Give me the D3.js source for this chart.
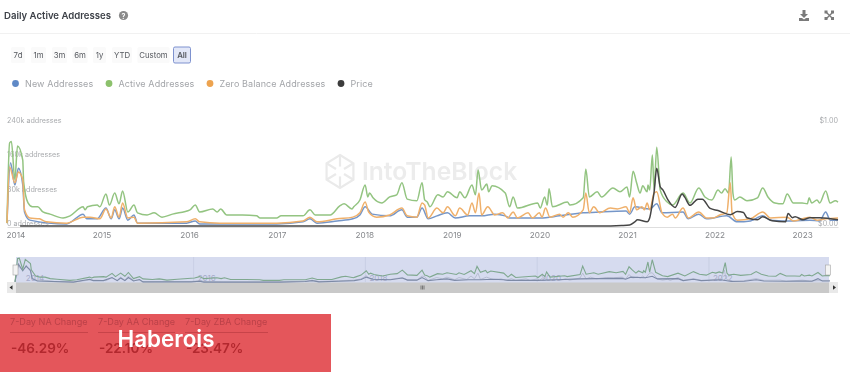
<!DOCTYPE html>
<html>
<head>
<meta charset="utf-8">
<script src="https://cdn.jsdelivr.net/npm/d3@7"></script>
<style>
  html, body { margin: 0; padding: 0; background: #fff; overflow: hidden; }
  svg { display: block; filter: blur(0.5px); }
  text { font-family: Inter, "Noto Sans", sans-serif; }
</style>
</head>
<body>
<div id="chart"></div>
<script>
// values, year as decimal, addresses in thousands
const activeYears = [2013.92,2013.95,2013.97,2014.01,2014.04,2014.10,2014.11,2014.16,2014.21,2014.27,2014.33,2014.41,2014.56,2014.64,2014.79,2014.81,2014.84,2014.95,2014.98,2015.05,2015.09,2015.15,2015.20,2015.24,2015.30,2015.37,2015.41,2015.52,2015.60,2015.69,2015.81,2016.01,2016.07,2016.12,2016.27,2016.32,2016.36,2016.43,2016.61,2016.77,2016.81,2017.00,2017.05,2017.30,2017.38,2017.44,2017.61,2017.72,2017.77,2017.86,2017.88,2017.95,2018.01,2018.04,2018.06,2018.10,2018.20,2018.29,2018.37,2018.43,2018.49,2018.60,2018.66,2018.69,2018.72,2018.75,2018.84,2018.90,2018.95,2019.06,2019.09,2019.15,2019.23,2019.27,2019.30,2019.34,2019.40,2019.42,2019.46,2019.61,2019.66,2019.70,2019.75,2019.98,2020.01,2020.06,2020.09,2020.11,2020.15,2020.32,2020.35,2020.50,2020.53,2020.57,2020.66,2020.71,2020.84,2020.92,2021.00,2021.03,2021.07,2021.11,2021.15,2021.18,2021.23,2021.24,2021.26,2021.29,2021.31,2021.34,2021.38,2021.46,2021.52,2021.64,2021.72,2021.82,2021.89,2021.97,2022.04,2022.08,2022.12,2022.16,2022.19,2022.21,2022.23,2022.29,2022.37,2022.49,2022.55,2022.61,2022.69,2022.78,2022.83,2022.90,2023.00,2023.06,2023.08,2023.11,2023.17,2023.20,2023.27,2023.32,2023.38,2023.41];
const activeValues = [9,196,199,110,189,156,105,56,47,47,35,30,21,26,47,40,47,51,47,77,51,79,54,84,35,51,33,28,33,23,30,40,51,35,42,35,42,28,28,26,21,21,26,26,40,28,28,49,54,42,47,63,98,70,79,68,56,70,75,103,65,61,103,63,58,47,75,70,82,68,82,68,98,75,133,86,100,82,96,79,47,70,44,56,44,70,51,89,47,58,51,68,135,70,82,70,91,82,93,70,130,103,79,96,82,98,86,168,86,186,86,58,51,79,56,91,70,63,86,79,89,79,163,79,63,70,61,68,91,70,56,54,77,56,56,54,68,56,63,56,84,56,61,58];

const zeroYears = [2013.92,2013.95,2014.01,2014.05,2014.10,2014.12,2014.18,2014.29,2014.37,2014.60,2014.79,2014.87,2014.98,2015.05,2015.11,2015.15,2015.20,2015.24,2015.30,2015.37,2015.41,2015.97,2016.07,2016.12,2016.35,2016.61,2017.00,2017.30,2017.38,2017.46,2017.69,2017.87,2017.95,2018.01,2018.05,2018.14,2018.29,2018.43,2018.49,2018.60,2018.66,2018.69,2018.73,2018.83,2018.90,2018.95,2019.04,2019.09,2019.18,2019.23,2019.27,2019.31,2019.34,2019.41,2019.49,2019.58,2019.64,2019.70,2019.75,2019.87,2019.92,2020.00,2020.03,2020.07,2020.12,2020.23,2020.27,2020.33,2020.38,2020.50,2020.53,2020.57,2020.62,2020.69,2020.81,2020.89,2020.99,2021.03,2021.07,2021.11,2021.17,2021.20,2021.23,2021.26,2021.31,2021.34,2021.40,2021.46,2021.52,2021.55,2021.64,2021.70,2021.82,2021.91,2021.98,2022.06,2022.14,2022.18,2022.20,2022.26,2022.41,2022.55,2022.64,2022.83,2022.90,2023.09,2023.17,2023.27,2023.41];
const zeroValues = [9,140,103,128,110,40,21,19,12,9,23,23,19,42,21,47,23,56,21,23,9,12,19,12,9,9,9,14,23,12,19,23,33,58,35,23,28,44,26,23,56,51,21,44,33,47,26,44,28,56,33,79,28,47,28,33,21,35,21,33,21,33,23,44,23,30,23,33,23,40,79,33,47,33,44,42,47,33,68,40,47,40,56,40,79,82,33,23,30,21,44,21,35,21,21,28,33,103,33,16,19,35,21,23,14,23,16,19,21];

const newYears = [2013.92,2013.96,2014.01,2014.05,2014.10,2014.12,2014.18,2014.60,2014.79,2014.83,2014.95,2015.05,2015.11,2015.15,2015.20,2015.24,2015.30,2015.37,2015.41,2015.97,2016.07,2016.12,2017.00,2017.30,2017.38,2017.46,2017.69,2017.87,2017.95,2018.01,2018.09,2018.29,2018.43,2018.49,2018.60,2018.66,2018.73,2018.83,2018.95,2019.04,2019.20,2019.34,2019.49,2019.61,2019.66,2020.01,2020.23,2020.50,2020.69,2020.99,2021.03,2021.09,2021.26,2021.34,2021.40,2021.64,2021.70,2021.82,2021.91,2022.14,2022.26,2022.41,2022.55,2022.64,2022.90,2023.09,2023.20,2023.27,2023.32,2023.41];
const newValues = [9,150,98,137,98,35,16,7,30,19,19,44,19,40,19,44,16,28,9,9,14,7,7,12,19,9,14,19,28,47,30,26,40,23,23,44,19,26,33,21,26,26,30,26,21,21,26,33,35,37,30,47,42,54,33,35,19,30,19,26,12,14,26,16,14,16,14,35,16,16];

// price in dollars
const priceYears = [2014.07,2020.69,2020.94,2021.03,2021.09,2021.12,2021.23,2021.26,2021.29,2021.31,2021.34,2021.38,2021.41,2021.47,2021.55,2021.63,2021.66,2021.72,2021.81,2021.86,2021.95,2022.04,2022.18,2022.26,2022.33,2022.37,2022.49,2022.55,2022.66,2022.81,2022.84,2022.89,2022.92,2023.01,2023.09,2023.20,2023.41];
const priceValues = [0.01,0.01,0.015,0.02,0.05,0.07,0.05,0.09,0.23,0.34,0.57,0.39,0.36,0.26,0.19,0.32,0.29,0.21,0.27,0.27,0.18,0.16,0.12,0.15,0.14,0.09,0.07,0.10,0.06,0.05,0.13,0.09,0.10,0.07,0.09,0.09,0.07];

const yearTicks = [2014,2015,2016,2017,2018,2019,2020,2021,2022,2023];
const navTicks = [2014,2016,2018,2020,2022];
const addressTicks = [0,80,160,240];
const priceTicks = [0,1];
const rangeButtons = ["7d","1m","3m","6m","1y","YTD","Custom","All"];
const legendNames = ["New Addresses","Active Addresses","Zero Balance Addresses","Price"];
const statNames = ["7-Day NA Change","7-Day AA Change","7-Day ZBA Change"];
const statValues = ["-46.29%","-22.10%","-23.47%"];

const colors = { fresh: "#7596c8", active: "#93c481", zero: "#efb06b", price: "#454545" };

let svg = d3.select("#chart").append("svg").attr("width", 850).attr("height", 373);

// scales
let x = d3.scaleLinear().domain([2013.92, 2023.41]).range([7, 838]);
let y = d3.scaleLinear().domain([0, 240]).range([227, 124]);
let yPrice = d3.scaleLinear().domain([0, 1]).range([227, 124]);
let navX = d3.scaleLinear().domain([2013.92, 2023.41]).range([15, 830]);
let navY = d3.scaleLinear().domain([0, 200]).range([283, 258]);

function pairs(xs, ys) {
  return xs.map((d, i) => [d, ys[i]]);
}

// header
svg.append("text").attr("x", 4).attr("y", 18.5).attr("font-size", 9.6).attr("font-weight", 600)
  .attr("fill", "#3d4148").text("Daily Active Addresses");
svg.append("circle").attr("cx", 123.5).attr("cy", 15.5).attr("r", 4.6).attr("fill", "#8a8a8a");
svg.append("text").attr("x", 123.5).attr("y", 18.5).attr("text-anchor", "middle").attr("font-size", 7)
  .attr("font-weight", 700).attr("fill", "#fff").text("?");
svg.append("line").attr("x1", 0).attr("x2", 850).attr("y1", 33.5).attr("y2", 33.5).attr("stroke", "#f1f1f1");

// download and expand icons
let icons = svg.append("g").attr("fill", "#7a7a7a");
icons.append("path").attr("transform", "translate(799,10)").attr("d", "M3.5 0h3v4h2.5l-4 4-4-4h2.5zM0 8h3l2 1.5 2-1.5h3v3H0z");
icons.append("path").attr("transform", "translate(825,11)").attr("stroke", "#7a7a7a").attr("stroke-width", 1.4)
  .attr("d", "M1 1l7 7M8 1l-7 7");
icons.selectAll("rect.corner").data([[824.5,10.5],[831,10.5],[824.5,17],[831,17]]).enter().append("rect")
  .attr("x", d => d[0]).attr("y", d => d[1]).attr("width", 3).attr("height", 3);

// range buttons
const buttonCenters = [18, 38.5, 59.5, 80, 99.5, 122, 153.5, 182];
const buttonWidths = [14, 15, 15, 15, 13, 20, 32, 17];
let buttons = svg.append("g").selectAll("g").data(rangeButtons).enter().append("g")
  .attr("transform", (d, i) => `translate(${buttonCenters[i]},55)`);
buttons.append("rect")
  .attr("x", (d, i) => -buttonWidths[i] / 2).attr("y", -8).attr("height", 16)
  .attr("width", (d, i) => buttonWidths[i]).attr("rx", 1.5)
  .attr("fill", d => d === "All" ? "#e3e8f8" : "#fafafa")
  .attr("stroke", d => d === "All" ? "#7e92cf" : "none");
buttons.append("text").attr("y", 3).attr("text-anchor", "middle").attr("font-size", 7.8)
  .attr("font-weight", d => d === "All" ? 600 : 400)
  .attr("fill", "#55585e").text(d => d);

// legend
const legendDots = [15.5, 109, 210, 341];
const legendColors = ["#5f89c6", "#8cc16c", "#eda34f", "#3c3c3c"];
let legend = svg.append("g").selectAll("g").data(legendNames).enter().append("g")
  .attr("transform", (d, i) => `translate(${legendDots[i]},83.5)`);
legend.append("circle").attr("r", 3.4).attr("fill", (d, i) => legendColors[i]);
legend.append("text").attr("x", 9.5).attr("y", 3.4).attr("font-size", 9).attr("letter-spacing", 0.1)
  .attr("fill", "#a3a5a9").text(d => d);

// watermark
let mark = svg.append("g").attr("transform", "translate(340,171.5)").attr("fill", "none")
  .attr("stroke", "#eaeaea").attr("stroke-width", 2.2);
let hexPts = d3.range(6).map(i => [15.5 * Math.sin(i * Math.PI / 3), -16.5 * Math.cos(i * Math.PI / 3)]);
mark.append("path").attr("d", d3.line()(hexPts) + "Z");
hexPts.forEach((p, i) => {
  mark.append("line").attr("x1", p[0] * 0.3).attr("y1", p[1] * 0.3).attr("x2", p[0]).attr("y2", p[1]);
});
svg.append("text").attr("x", 362).attr("y", 180).attr("font-size", 24.6).attr("font-weight", 600)
  .attr("fill", "#ececec").text("IntoTheBlock");

// axes
let xAxis = svg.append("g").attr("transform", "translate(0,227)")
  .call(d3.axisBottom(x).tickValues(yearTicks).tickFormat(d3.format("d")).tickSize(0).tickPadding(5));
xAxis.select(".domain").attr("stroke", "#dedede");
xAxis.selectAll("text").attr("font-size", 8.2).attr("fill", "#85878b").attr("font-family", "Inter");
xAxis.selectAll(".tick").filter(d => d === 2014).select("text").attr("dx", 1.5);

let yAxis = svg.append("g").attr("transform", "translate(7,0)")
  .call(d3.axisRight(y).tickValues(addressTicks).tickFormat(d => (d === 0 ? "0" : d + "k") + " addresses").tickSize(0).tickPadding(0));
yAxis.select(".domain").remove();
yAxis.selectAll("text").attr("font-size", 7.2).attr("fill", "#a9abae").attr("dy", -1.6).attr("font-family", "Inter");

let yAxisRight = svg.append("g").attr("transform", "translate(838,0)")
  .call(d3.axisLeft(yPrice).tickValues(priceTicks).tickFormat(d3.format("$.2f")).tickSize(0).tickPadding(0));
yAxisRight.select(".domain").remove();
yAxisRight.selectAll("text").attr("font-size", 7.2).attr("fill", "#a9abae").attr("dy", -1.6).attr("font-family", "Inter");

// main lines
let line = d3.line().x(d => x(d[0])).y(d => y(d[1])).curve(d3.curveMonotoneX);
let priceLine = d3.line().x(d => x(d[0])).y(d => yPrice(d[1])).curve(d3.curveMonotoneX);
let plot = svg.append("g").attr("fill", "none").attr("stroke-linejoin", "round");
plot.append("path").attr("d", line(pairs(newYears, newValues))).attr("stroke", colors.fresh).attr("stroke-width", 1.5);
plot.append("path").attr("d", line(pairs(activeYears, activeValues))).attr("stroke", colors.active).attr("stroke-width", 1.5);
plot.append("path").attr("d", line(pairs(zeroYears, zeroValues))).attr("stroke", colors.zero).attr("stroke-width", 1.5);
plot.append("path").attr("d", priceLine(pairs(priceYears, priceValues))).attr("stroke", colors.price).attr("stroke-width", 1.5);

// navigator
let nav = svg.append("g");
nav.append("rect").attr("x", 7).attr("y", 282).attr("width", 831).attr("height", 11).attr("fill", "#c9c9c9");
nav.append("rect").attr("x", 16).attr("y", 257).attr("width", 813).attr("height", 25.5).attr("fill", "#d6dbef");
nav.selectAll("line.tick").data(navTicks.slice(1)).enter().append("line")
  .attr("x1", d => navX(d)).attr("x2", d => navX(d)).attr("y1", 257).attr("y2", 282)
  .attr("stroke", "#c3c8df").attr("stroke-width", 0.7);
nav.selectAll("text.year").data(navTicks).enter().append("text")
  .attr("x", d => navX(d) + 4).attr("y", 281).attr("font-size", 8).attr("fill", "#a6abca").text(d => d);
let navLine = d3.line().x(d => navX(d[0])).y(d => navY(d[1]));
nav.append("path").attr("d", navLine(pairs(zeroYears, zeroValues))).attr("fill", "none").attr("stroke", "#aab2c6").attr("stroke-width", 0.7);
nav.append("path").attr("d", navLine(pairs(newYears, newValues))).attr("fill", "none").attr("stroke", "#7d8aa6").attr("stroke-width", 1.1);
nav.append("path").attr("d", navLine(pairs(activeYears, activeValues))).attr("fill", "none").attr("stroke", "#7fa88f").attr("stroke-width", 1.1);
// handles and scrollbar buttons
nav.selectAll("rect.handle").data([13, 825.5]).enter().append("rect")
  .attr("x", d => d).attr("y", 265).attr("width", 5).attr("height", 10)
  .attr("fill", "#f4f4f4").attr("stroke", "#a5a5a5").attr("stroke-width", 0.6);
nav.selectAll("rect.arrow").data([7, 829]).enter().append("rect")
  .attr("x", d => d).attr("y", 282).attr("width", 9).attr("height", 11).attr("fill", "#e9e9e9");
nav.append("path").attr("d", "M9.5 287.5l3-2.2v4.4z M836 287.5l-3-2.2v4.4z").attr("fill", "#333");
nav.append("path").attr("d", "M421 285.5v4M422.5 285.5v4M424 285.5v4").attr("stroke", "#555").attr("stroke-width", 0.7);

// red banner over the stats
svg.append("rect").attr("x", 0).attr("y", 314).attr("width", 331).attr("height", 58).attr("fill", "#e4565b");
const statX = [10, 98, 185];
const statW = [78, 77, 83];
let stats = svg.append("g").selectAll("g").data(statNames).enter().append("g")
  .attr("transform", (d, i) => `translate(${statX[i]},0)`);
stats.append("text").attr("y", 325).attr("font-size", 9.1).attr("fill", "#bb4148").text(d => d);
stats.append("line").attr("x1", 0).attr("x2", (d, i) => statW[i]).attr("y1", 332.5).attr("y2", 332.5)
  .attr("stroke", "#bf3f45").attr("stroke-width", 0.8);
stats.append("text").attr("x", 1).attr("y", 352.5).attr("font-size", 13.5).attr("font-weight", 600)
  .attr("fill", "#b2282e").text((d, i) => statValues[i]);
svg.append("text").attr("x", 117.5).attr("y", 346.5).attr("font-size", 22.4).attr("font-weight", 600)
  .attr("fill", "#fff").text("Haberois");
</script>
</body>
</html>
